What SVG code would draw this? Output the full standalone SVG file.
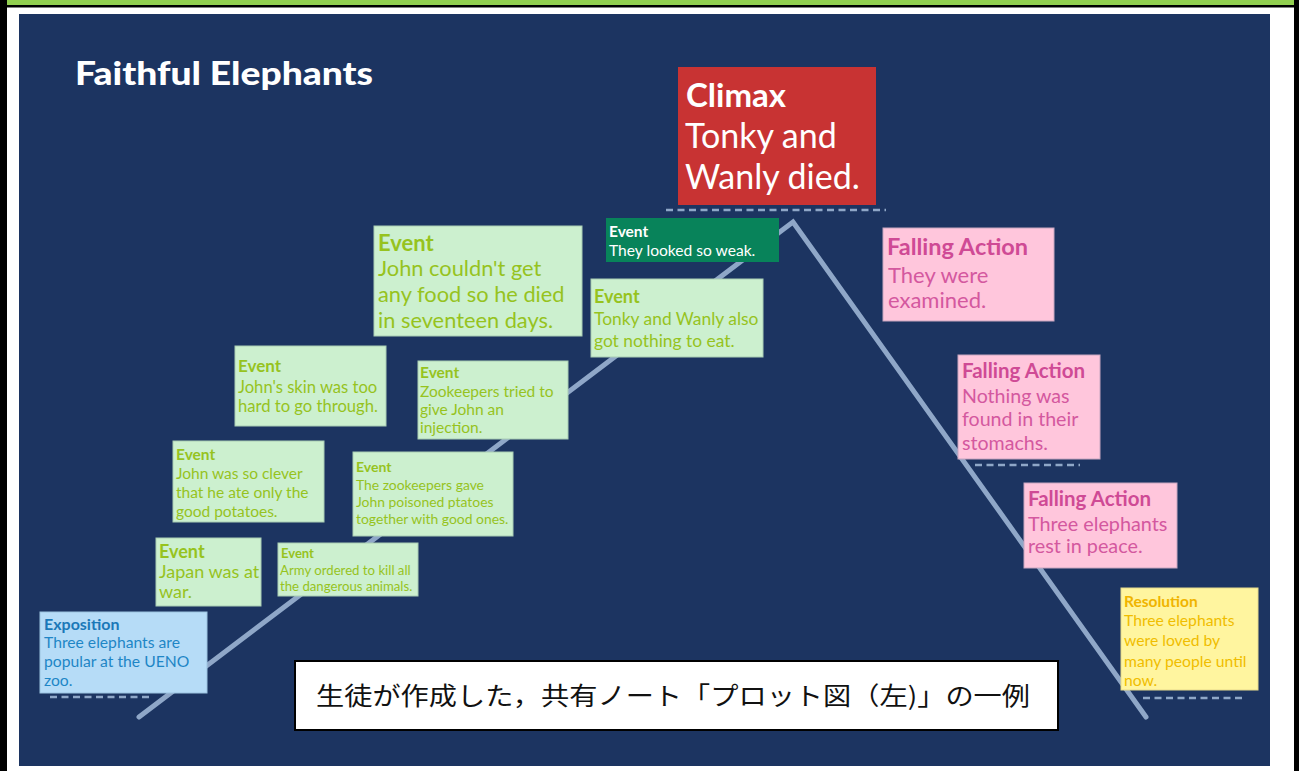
<svg xmlns="http://www.w3.org/2000/svg" width="1299" height="771" viewBox="0 0 1299 771">
<style>
text{font-family:Lato,"Open Sans","DejaVu Sans",sans-serif}
.b{font-weight:bold}
.ev rect{fill:#ccf0cf;stroke:#a9cdb4;stroke-width:1}
.ev text{fill:#96c31e}
.fa rect{fill:#ffc6dc;stroke:#c7a6c0;stroke-width:1}
.fa text{fill:#d4589f}
.fa text.b{fill:#cf4a95}
.dash{stroke:#8fa7c8;stroke-width:2.6;stroke-dasharray:7 4.5;fill:none}
</style>
<rect x="0" y="0" width="1299" height="771" fill="#ffffff"/>
<rect x="0" y="0" width="1299" height="6" fill="#92d050"/>
<rect x="0" y="5" width="1299" height="2.5" fill="#000"/>
<rect x="0" y="0" width="7" height="771" fill="#000"/>
<rect x="1294" y="0" width="5" height="771" fill="#000"/>
<rect x="19" y="14" width="1251" height="752" fill="#1c3461"/>
<text x="75" y="85" font-size="32" font-weight="900" fill="#ffffff" textLength="298" lengthAdjust="spacingAndGlyphs">Faithful Elephants</text>

<g id="connectors">
<polyline points="139,717 793,222 1146,717" fill="none" stroke="#8fa7c8" stroke-width="5" stroke-linecap="round" stroke-linejoin="miter"/>
<line class="dash" x1="666" y1="210" x2="886" y2="210"/>
<line class="dash" x1="50" y1="697" x2="153" y2="697"/>
<line class="dash" x1="975" y1="465" x2="1080" y2="465"/>
<line class="dash" x1="1143" y1="698" x2="1246" y2="698"/>
</g>

<g id="climax">
<rect x="678" y="67" width="198" height="138" fill="#c83333"/>
<text x="686" y="107" font-size="33" class="b" fill="#fff">Climax</text>
<text font-size="34" fill="#fff"><tspan x="685" y="148">Tonky and</tspan><tspan x="685" y="189">Wanly died.</tspan></text>
</g>

<g id="exposition">
<rect x="40" y="612" width="167" height="81" fill="#b6dcf7" stroke="#9cc3e0"/>
<text x="44" y="630" font-size="16" class="b" fill="#1a78b8">Exposition</text>
<text font-size="15.7" fill="#1e86c6"><tspan x="44" y="648">Three elephants are</tspan><tspan x="44" y="667">popular at the UENO</tspan><tspan x="44" y="686">zoo.</tspan></text>
</g>

<g id="event-war" class="ev">
<rect x="156" y="538" width="105" height="68"/>
<text x="159" y="558" font-size="18" class="b">Event</text>
<text font-size="18"><tspan x="159" y="578">Japan was at</tspan><tspan x="159" y="598">war.</tspan></text>
</g>

<g id="event-army" class="ev">
<rect x="278" y="543" width="140" height="53"/>
<text x="281" y="558" font-size="13" class="b">Event</text>
<text font-size="13.2"><tspan x="280" y="575">Army ordered to kill all</tspan><tspan x="280" y="591">the dangerous animals.</tspan></text>
</g>

<g id="event-clever" class="ev">
<rect x="173" y="441" width="151" height="81"/>
<text x="176" y="460" font-size="15.5" class="b">Event</text>
<text font-size="15.5"><tspan x="176" y="479">John was so clever</tspan><tspan x="176" y="498">that he ate only the</tspan><tspan x="176" y="517">good potatoes.</tspan></text>
</g>

<g id="event-poison" class="ev">
<rect x="353" y="452" width="160" height="84"/>
<text x="356" y="472" font-size="14" class="b">Event</text>
<text font-size="13.9"><tspan x="356" y="490">The zookeepers gave</tspan><tspan x="356" y="507">John poisoned ptatoes</tspan><tspan x="356" y="524">together with good ones.</tspan></text>
</g>

<g id="event-skin" class="ev">
<rect x="235" y="346" width="151" height="80"/>
<text x="238" y="372" font-size="17" class="b">Event</text>
<text font-size="16.6"><tspan x="238" y="393">John's skin was too</tspan><tspan x="238" y="412">hard to go through.</tspan></text>
</g>

<g id="event-injection" class="ev">
<rect x="418" y="361" width="150" height="78"/>
<text x="420" y="378" font-size="15.5" class="b">Event</text>
<text font-size="15.5"><tspan x="420" y="397">Zookeepers tried to</tspan><tspan x="420" y="415">give John an</tspan><tspan x="420" y="433">injection.</tspan></text>
</g>

<g id="event-food" class="ev">
<rect x="374" y="226" width="208" height="110"/>
<text x="378" y="251" font-size="22" class="b">Event</text>
<text font-size="21.8"><tspan x="378" y="276">John couldn't get</tspan><tspan x="378" y="302">any food so he died</tspan><tspan x="378" y="328">in seventeen days.</tspan></text>
</g>

<g id="event-nothing" class="ev">
<rect x="591" y="279" width="172" height="78"/>
<text x="594" y="303" font-size="18" class="b">Event</text>
<text font-size="17.4"><tspan x="594" y="325">Tonky and Wanly also</tspan><tspan x="594" y="347">got nothing to eat.</tspan></text>
</g>

<g id="event-weak">
<rect x="606" y="218" width="173" height="44" fill="#08835a"/>
<text x="609" y="237" font-size="15.5" class="b" fill="#fff">Event</text>
<text x="609" y="256" font-size="15.6" fill="#fff">They looked so weak.</text>
</g>

<g id="falling-1" class="fa">
<rect x="883" y="228" width="171" height="93"/>
<text x="887" y="255" font-size="23.5" class="b">Falling Action</text>
<text font-size="22"><tspan x="888" y="283">They were</tspan><tspan x="888" y="308">examined.</tspan></text>
</g>

<g id="falling-2" class="fa">
<rect x="958" y="355" width="142" height="104"/>
<text x="962" y="378" font-size="20.5" class="b">Falling Action</text>
<text font-size="19.6"><tspan x="962" y="403">Nothing was</tspan><tspan x="962" y="426">found in their</tspan><tspan x="962" y="450">stomachs.</tspan></text>
</g>

<g id="falling-3" class="fa">
<rect x="1024" y="483" width="153" height="85"/>
<text x="1028" y="506" font-size="20.5" class="b">Falling Action</text>
<text font-size="19.8"><tspan x="1028" y="531">Three elephants</tspan><tspan x="1028" y="553">rest in peace.</tspan></text>
</g>

<g id="resolution">
<rect x="1121" y="588" width="137" height="102" fill="#fff59f" stroke="#e6d98c"/>
<text x="1124" y="607" font-size="15.5" class="b" fill="#f0b400">Resolution</text>
<text font-size="15.7" fill="#f0bd00"><tspan x="1124" y="626">Three elephants</tspan><tspan x="1124" y="646">were loved by</tspan><tspan x="1124" y="667">many people until</tspan><tspan x="1124" y="686">now.</tspan></text>
</g>

<g id="caption">
<rect x="295" y="661" width="763" height="69" fill="#fff" stroke="#000" stroke-width="2"/>
<text x="316" y="705" font-size="25" fill="#111" style="font-family:'Noto Sans CJK JP',sans-serif" textLength="714" lengthAdjust="spacingAndGlyphs">生徒が作成した，共有ノート「プロット図（左)」の一例</text>
</g>
</svg>
